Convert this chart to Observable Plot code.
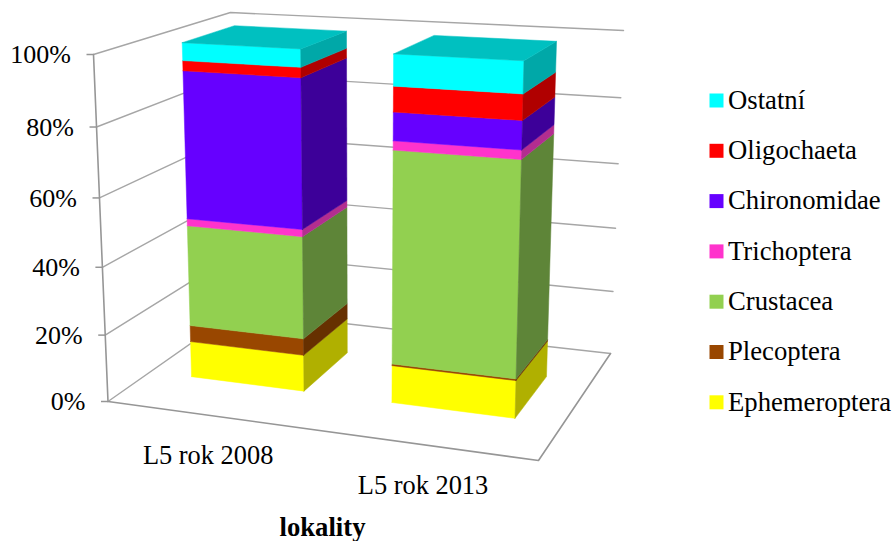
<!DOCTYPE html>
<html lang="cs">
<head>
<meta charset="utf-8">
<title>lokality</title>
<script src="https://cdn.jsdelivr.net/npm/d3@7"></script>
<script src="https://cdn.jsdelivr.net/npm/@observablehq/plot@0.6"></script>
<style>
  html, body { margin: 0; padding: 0; background: #fff; overflow: hidden; }
  svg { display: block; }
</style>
</head>
<body>
<div id="chart"></div>
<script>
// Share of each taxon per site, in percent (stacked bottom to top).
const categories = ["L5 rok 2008", "L5 rok 2013"];
const taxa = ["Ephemeroptera", "Plecoptera", "Crustacea", "Trichoptera", "Chironomidae", "Oligochaeta", "Ostatní"];
const ephemeroptera = [11, 11.1];
const plecoptera = [5, 0.5];
const crustacea = [30.5, 61.9];
const trichoptera = [2.1, 2.6];
const chironomidae = [43.4, 8];
const oligochaeta = [2.9, 7.1];
const ostatni = [5.1, 8.8];
const series = [ephemeroptera, plecoptera, crustacea, trichoptera, chironomidae, oligochaeta, ostatni];
const percentTicks = [0, 20, 40, 60, 80, 100];

// Front, side and top shades per taxon.
const frontColors = ["#ffff00", "#994700", "#92d050", "#ff33cc", "#6600ff", "#ff0000", "#00ffff"];
const sideColors = ["#b0b000", "#663000", "#5e8538", "#b32d90", "#3d0099", "#b00000", "#00a8a8"];
const topColor = "#00c0c0";

// Perspective camera: u runs along the categories, d into the depth, v up the value axis (0-1).
const cam = {
  ox: 107.5, oy: 401,
  ux: 381.7, uy: 17.3, uw: -0.0907,
  dx: 168.4, dy: -37.7, dw: 0.1687,
  vx: -19.5, vy: -349.9, vw: -0.0538
};
function project(u, d, pct) {
  const v = pct / 100;
  const w = 1 + cam.uw * u + cam.dw * d + cam.vw * v;
  return [
    (cam.ox + cam.ux * u + cam.dx * d + cam.vx * v) / w,
    (cam.oy + cam.uy * u + cam.dy * d + cam.vy * v) / w
  ];
}

// Closed polygon rows for Plot.line, one id per face.
const faces = [];
function addFace(id, fill, corners) {
  for (const [u, d, pct] of [...corners, corners[0]]) {
    const [x, y] = project(u, d, pct);
    faces.push({id, fill, x, y});
  }
}
const barHalf = 0.143, depthNear = 0.3, depthFar = 0.7;
categories.forEach((cat, i) => {
  const center = (i + 0.5) / categories.length;
  const u0 = center - barHalf, u1 = center + barHalf;
  let base = 0;
  series.forEach((vals, s) => {
    const top = base + vals[i];
    addFace(`${cat}-${s}-front`, frontColors[s], [[u0, depthNear, base], [u1, depthNear, base], [u1, depthNear, top], [u0, depthNear, top]]);
    addFace(`${cat}-${s}-side`, sideColors[s], [[u1, depthNear, base], [u1, depthFar, base], [u1, depthFar, top], [u1, depthNear, top]]);
    base = top;
  });
  addFace(`${cat}-top`, topColor, [[u0, depthNear, base], [u1, depthNear, base], [u1, depthFar, base], [u0, depthFar, base]]);
});

// Wall gridlines: up the left wall, then across the back wall.
const grid = percentTicks.flatMap(p => {
  const pts = [project(0, 0, p), project(0, 1, p), project(1, 1, p)];
  return pts.map(([x, y]) => ({id: p, x, y}));
});
// Floor edges and the vertical value axis.
const frame = [[0, 0, 100], [0, 0, 0], [1, 0, 0], [1, 1, 0]].map(([u, d, p]) => {
  const [x, y] = project(u, d, p);
  return {x, y};
});
const ticks = percentTicks.map(p => {
  const [x, y] = project(0, 0, p);
  return {p, x, y, label: `${p}%`};
});
const catLabels = categories.map((name, i) => {
  const [x, y] = project((i + 0.5) / categories.length, 0, 0);
  return {name, x, y};
});
const legendStep = 50.3, legendTop = 100;
const legend = [...taxa].reverse().map((name, i) => ({
  name,
  color: frontColors[taxa.length - 1 - i],
  y: legendTop + i * legendStep
}));

const serif = "'Liberation Serif', 'Times New Roman', serif";
const gridColor = "#a6a6a6", axisColor = "#969696";

const chart = Plot.plot({
  width: 895,
  height: 541,
  margin: 0,
  style: {background: "#fff"},
  x: {domain: [0, 895], range: [0, 895], axis: null},
  y: {domain: [0, 541], range: [0, 541], axis: null},
  color: {type: "identity"},
  marks: [
    Plot.line(grid, {x: "x", y: "y", z: "id", stroke: gridColor, strokeWidth: 1.4}),
    Plot.line(frame, {x: "x", y: "y", stroke: axisColor, strokeWidth: 1.6}),
    Plot.link(ticks, {x1: d => d.x - 7, x2: "x", y1: "y", y2: "y", stroke: axisColor, strokeWidth: 1.5}),
    Plot.line(faces, {x: "x", y: "y", z: "id", fill: "fill", stroke: "fill", strokeWidth: 0.5}),
    Plot.text(ticks, {x: "x", y: "y", text: "label", textAnchor: "end", dx: -22.5, dy: 0.5, fontFamily: serif, fontSize: 26, fill: "#000"}),
    Plot.text(catLabels, {x: "x", y: "y", text: "name", textAnchor: "middle", dy: 40.7, fontFamily: serif, fontSize: 26.4, fill: "#000"}),
    Plot.text(["lokality"], {x: () => 322, y: () => 527, text: d => d, textAnchor: "middle", fontFamily: serif, fontSize: 26.7, fontWeight: "bold", fill: "#000"}),
    Plot.dot(legend, {x: () => 716, y: "y", symbol: "square", r: 7.9, fill: "color", stroke: null}),
    Plot.text(legend, {x: () => 727.5, y: "y", text: "name", textAnchor: "start", dy: -0.3, fontFamily: serif, fontSize: 26.7, fill: "#000"})
  ]
});
document.getElementById("chart").append(chart);
</script>
</body>
</html>
